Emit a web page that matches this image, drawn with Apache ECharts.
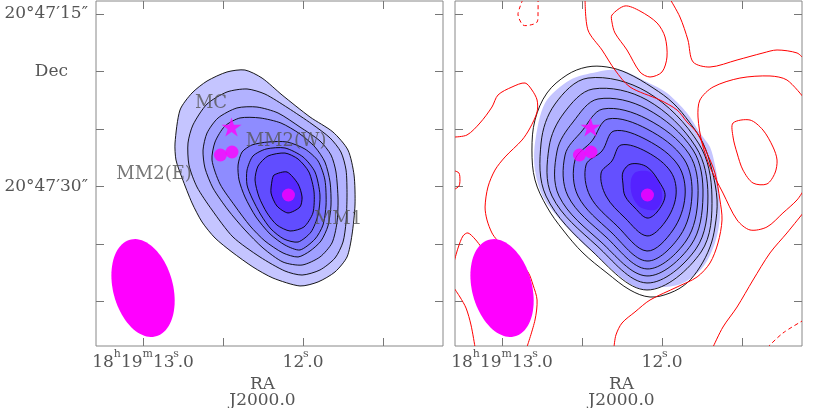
<!DOCTYPE html>
<html>
<head>
<meta charset="utf-8">
<title>MM1 / MM2 continuum maps</title>
<script src="https://cdn.jsdelivr.net/npm/echarts@6/dist/echarts.min.js"></script>
<style>
  html, body { margin: 0; padding: 0; background: #fff; }
  #chart { width: 830px; height: 408px; }
</style>
</head>
<body>
<div id="chart"></div>
<script>
// RA in seconds of 18h19m, Dec in arcsec of 20°47'
const raTicks = [13.0, 12.5, 12.0, 11.5];
const raLabels = [13.0, 12.0];
const decTicks = [15, 20, 25, 30, 35, 40];
const decLabels = [15, 20, 30];

// left panel: observed map, filled contours (outer -> inner)
const leftC1 = [[12.800,26.22],[12.794,27.70],[12.756,29.26],[12.694,31.43],[12.631,33.09],[12.550,34.48],[12.444,35.70],[12.313,37.00],[12.188,37.96],[12.019,38.65],[11.906,38.30],[11.800,37.43],[11.725,36.13],[11.694,34.22],[11.675,31.61],[11.681,29.00],[11.719,26.83],[11.813,25.26],[11.956,23.96],[12.131,22.04],[12.256,20.57],[12.363,19.87],[12.475,20.04],[12.600,20.83],[12.694,21.87],[12.769,23.35]];
const leftC2 = [[12.719,26.22],[12.688,24.65],[12.600,22.83],[12.475,21.78],[12.350,21.52],[12.238,21.96],[12.094,23.17],[11.944,24.57],[11.831,25.78],[11.763,27.00],[11.731,28.57],[11.725,30.74],[11.731,33.09],[11.750,34.83],[11.800,36.22],[11.894,37.26],[12.006,37.70],[12.113,37.35],[12.269,36.13],[12.438,34.39],[12.569,32.04],[12.663,30.04],[12.713,28.13]];
const leftC3 = [[12.625,26.83],[12.600,25.35],[12.531,24.04],[12.413,23.17],[12.288,23.09],[12.156,23.61],[12.019,24.83],[11.894,26.04],[11.825,27.26],[11.794,28.74],[11.781,31.17],[11.788,33.17],[11.819,34.91],[11.894,36.13],[12.006,36.83],[12.125,36.57],[12.250,35.35],[12.363,33.78],[12.469,32.04],[12.563,30.13],[12.613,28.39]];
const leftC4 = [[12.569,27.70],[12.550,26.13],[12.488,24.74],[12.394,24.04],[12.269,24.04],[12.138,24.48],[12.019,25.43],[11.925,26.57],[11.863,27.87],[11.831,29.61],[11.825,31.61],[11.844,33.43],[11.888,34.74],[11.956,35.61],[12.031,36.13],[12.125,35.78],[12.238,34.74],[12.331,33.43],[12.425,31.70],[12.519,29.78]];
const leftC5 = [[12.406,28.13],[12.381,27.00],[12.319,26.39],[12.219,26.13],[12.100,26.13],[11.988,26.74],[11.906,27.78],[11.863,29.43],[11.856,31.61],[11.875,33.35],[11.925,34.57],[12.019,35.52],[12.113,35.09],[12.206,34.13],[12.294,32.65],[12.363,30.91],[12.400,29.43]];
const leftC6 = [[12.350,28.57],[12.313,27.35],[12.231,26.74],[12.113,26.65],[12.000,27.43],[11.925,28.74],[11.894,30.74],[11.906,32.48],[11.950,33.96],[12.031,34.83],[12.119,34.57],[12.200,33.70],[12.263,32.48],[12.319,31.00],[12.350,29.87]];
const leftC7 = [[12.300,29.43],[12.281,28.22],[12.219,27.35],[12.113,27.09],[12.031,27.61],[11.963,28.74],[11.931,30.48],[11.938,32.30],[11.994,33.52],[12.081,33.87],[12.163,33.35],[12.225,32.30],[12.275,30.91]];
const leftC8 = [[12.181,29.00],[12.100,28.74],[12.031,29.78],[12.006,30.91],[12.019,31.78],[12.094,32.30],[12.163,31.70],[12.200,30.57],[12.194,29.52]];

// right panel: filled map (outer fill, core fill) and black model contours
const rightF1 = [[12.794,26.22],[12.731,22.74],[12.575,20.74],[12.406,20.04],[12.263,19.87],[12.094,20.91],[11.969,21.87],[11.844,23.61],[11.763,25.35],[11.700,26.57],[11.669,28.13],[11.650,29.70],[11.638,32.65],[11.669,34.91],[11.744,37.00],[11.869,38.39],[12.013,38.74],[12.181,38.13],[12.325,36.65],[12.469,35.26],[12.619,33.17],[12.744,30.91],[12.794,28.57]];
const rightCore = [[12.163,28.74],[12.075,28.74],[12.013,29.87],[12.000,31.17],[12.044,32.04],[12.138,31.78],[12.188,30.74],[12.194,29.43]];
const rightB1 = [[12.813,26.83],[12.794,24.22],[12.719,21.87],[12.594,20.30],[12.469,19.61],[12.344,19.61],[12.219,20.13],[12.056,21.43],[11.931,22.74],[11.825,24.48],[11.744,26.22],[11.688,28.57],[11.656,31.17],[11.669,33.52],[11.700,35.26],[11.763,37.00],[11.844,38.39],[11.950,39.26],[12.075,39.61],[12.200,39.00],[12.344,37.52],[12.494,35.78],[12.619,33.78],[12.719,31.78],[12.794,29.43]];
const rightB2 = [[12.094,21.78],[11.769,26.30],[11.688,30.83],[11.756,35.70],[12.094,39.00],[12.438,35.61],[12.725,30.83],[12.756,26.22],[12.669,22.83],[12.463,20.57]];
const rightB3 = [[12.094,22.48],[11.788,26.57],[11.713,30.83],[11.788,35.43],[12.094,38.39],[12.406,35.17],[12.688,30.83],[12.706,26.57],[12.613,23.61],[12.431,21.52]];
const rightB4 = [[12.094,23.26],[11.806,26.83],[11.744,30.83],[11.819,35.09],[12.094,37.78],[12.381,34.83],[12.644,30.83],[12.656,26.91],[12.556,24.39],[12.400,22.39]];
const rightB5 = [[12.094,24.13],[11.831,27.17],[11.775,30.83],[11.850,34.74],[12.094,37.17],[12.350,34.39],[12.588,30.83],[12.606,27.26],[12.500,25.17],[12.369,23.26]];
const rightB6 = [[12.094,25.00],[11.863,27.61],[11.813,30.83],[11.888,34.30],[12.094,36.48],[12.319,33.96],[12.525,30.83],[12.544,27.70],[12.438,26.04],[12.338,24.13]];
const rightB7 = [[12.094,25.96],[11.900,28.13],[11.856,30.83],[11.931,33.78],[12.094,35.61],[12.281,33.43],[12.450,30.83],[12.475,28.13],[12.375,26.91],[12.300,25.17]];
const rightB8 = [[12.094,27.00],[11.944,28.74],[11.913,30.83],[11.981,33.09],[12.094,34.30],[12.231,32.74],[12.350,30.83],[12.381,28.83],[12.313,27.78],[12.256,26.39]];
const rightB9 = [[12.094,28.30],[12.013,29.70],[11.981,30.83],[12.031,32.22],[12.094,32.74],[12.169,31.87],[12.231,30.83],[12.244,29.78],[12.244,28.74],[12.194,28.04]];

// right panel: red residual contours
const red0 = [[13.294,28.65],[13.269,28.83],[13.263,29.43],[13.269,29.96],[13.294,30.22]];
const red1 = [[13.300,25.70],[13.219,25.52],[13.138,24.48],[13.063,23.09],[13.025,22.04],[12.938,21.35],[12.856,21.00],[12.813,21.61],[12.781,22.48],[12.781,23.52],[12.825,24.91],[12.875,25.96],[12.981,27.43],[13.044,28.57],[13.088,30.04],[13.106,31.78],[13.094,32.91],[13.063,34.04],[13.031,34.65],[12.919,36.22],[12.838,37.43],[12.806,38.57],[12.781,39.87],[12.794,41.61],[12.844,43.95]];
const red2a = [[13.300,36.57],[13.275,35.35],[13.244,34.30],[13.213,34.04],[13.169,34.57],[13.125,35.35],[13.075,36.22],[13.013,37.70]];
const red2b = [[13.300,38.83],[13.263,39.61],[13.225,40.57],[13.194,42.04],[13.169,43.96]];
const red3 = [[12.869,13.70],[12.888,14.39],[12.900,15.09],[12.869,15.96],[12.825,15.96],[12.781,15.70],[12.775,14.83],[12.775,13.70]];
const red4 = [[12.481,13.70],[12.463,16.39],[12.375,18.13],[12.294,19.87],[12.200,21.35],[12.013,22.48],[11.906,23.35],[11.844,24.39],[11.781,25.35],[11.719,27.09],[11.669,28.83],[11.638,31.17],[11.625,32.91],[11.650,34.91],[11.700,36.65],[11.781,37.87],[11.906,38.74],[12.075,39.87],[12.169,40.91],[12.250,41.87],[12.288,42.91],[12.300,43.96]];
const red5 = [[12.313,15.09],[12.231,14.30],[12.138,14.74],[12.031,15.78],[11.981,17.00],[11.969,18.74],[12.000,20.04],[12.075,20.48],[12.138,20.04],[12.219,18.13],[12.294,16.65],[12.313,15.70]];
const red6 = [[11.950,13.70],[11.888,15.26],[11.838,17.26],[11.806,19.17],[11.700,19.61],[11.531,19.00],[11.369,18.39],[11.281,18.13],[11.156,18.39],[11.113,18.91]];
const red7 = [[11.113,22.30],[11.219,20.74],[11.325,20.39],[11.513,20.57],[11.681,21.35],[11.763,22.48],[11.775,23.96],[11.750,26.22],[11.700,28.30],[11.619,30.57],[11.531,32.91],[11.450,33.78],[11.344,33.52],[11.244,32.30],[11.156,31.17],[11.113,30.30]];
const red8 = [[11.556,24.48],[11.450,24.22],[11.369,25.09],[11.306,26.57],[11.281,27.70],[11.294,28.83],[11.344,29.78],[11.431,29.70],[11.494,28.57],[11.531,27.09],[11.556,25.70]];
const red9 = [[11.113,32.22],[11.219,34.04],[11.325,35.78],[11.431,38.13],[11.531,40.48],[11.619,42.22],[11.681,43.96]];
const red10 = [[11.113,41.61],[11.244,42.74],[11.338,43.96]];

// sources
const mcStar = [12.447, 24.83];
const mm2Dots = [[12.516, 27.26], [12.444, 27.00]];
const mm1Dot = [12.091, 30.74];
const labelNames = ['MC', 'MM2(W)', 'MM2(E)', 'MM1'];
const labelPos = [[12.575, 22.74], [12.106, 26.04], [12.931, 28.91], [11.781, 32.83]];

// synthesized beam: centre, major / minor FWHM (arcsec), PA (deg)
const beamCenter = [13.0, 38.83];
const beamSize = [8.7, 5.2];
const beamPA = 15;

const leftFill = ['#c5c5ff', '#b2b2ff', '#a0a0ff', '#8e8cff', '#7d78ff', '#6e62ff', '#614dff', '#5528ff'];
const rightFill = ['#c5c5ff', '#b5b5ff', '#a5a5ff', '#9898ff', '#8a88ff', '#7c76ff', '#7064ff', '#6450ff', '#5a3cff', '#5522ff'];

const FONT = 'DejaVu Serif';
const TEXT = '#555';
const xRange = { min: 11.125, max: 13.294 };
const yRange = { min: 13.87, max: 43.87 };
const starPath = 'path://M0,-10L2.245,-3.09L9.51,-3.09L3.633,1.18L5.88,8.09L0,3.82L-5.88,8.09L-3.633,1.18L-9.51,-3.09L-2.245,-3.09Z';

const chart = echarts.init(document.getElementById('chart'));

function raFormat(v) {
  const s = Math.round(v * 10) / 10;
  if (s === 13) return '{n|18}{u|h}{n|19}{u|m}{n|13}{d|s}{n|.0}';
  return '{n|' + Math.floor(s) + '}{d|s}{n|.' + Math.round((s - Math.floor(s)) * 10) + '}';
}

const raRich = {
  n: { fontFamily: FONT, fontSize: 17, color: TEXT, lineHeight: 28 },
  u: { fontFamily: FONT, fontSize: 11, color: TEXT, lineHeight: 12, verticalAlign: 'top' },
  d: { fontFamily: FONT, fontSize: 11, color: TEXT, lineHeight: 12, verticalAlign: 'top', width: 3 }
};

function raAxis(g, pos) {
  const bottom = pos === 'bottom';
  return {
    type: 'value', gridIndex: g, position: pos, inverse: true,
    min: xRange.min, max: xRange.max,
    axisLine: { show: false, onZero: false },
    splitLine: { show: false },
    axisTick: { show: true, inside: true, length: 8, customValues: raTicks, lineStyle: { color: '#777' } },
    axisLabel: bottom
      ? { show: true, customValues: raLabels, margin: 3, formatter: raFormat, rich: raRich }
      : { show: false },
    name: bottom ? 'RA\nJ2000.0' : '',
    nameLocation: 'middle',
    nameGap: 31,
    nameTextStyle: { fontFamily: FONT, fontSize: 17, color: TEXT, lineHeight: 16, padding: [0, 14, 0, 0] }
  };
}

function decAxis(g, pos) {
  const withLabels = g === 0 && pos === 'left';
  return {
    type: 'value', gridIndex: g, position: pos, inverse: true,
    min: yRange.min, max: yRange.max,
    axisLine: { show: false, onZero: false },
    splitLine: { show: false },
    axisTick: { show: true, inside: true, length: 8, customValues: decTicks, lineStyle: { color: '#777' } },
    axisLabel: withLabels
      ? {
          show: true, customValues: decLabels, margin: 8,
          fontFamily: FONT, fontSize: 17, color: TEXT,
          formatter: v => (v === 20 ? '{d|Dec}' : '20°47′' + v + '″'),
          rich: { d: { fontFamily: FONT, fontSize: 17, color: TEXT, padding: [0, 20, 0, 0] } }
        }
      : { show: false }
  };
}

function polySeries(g, polys, styleOf, closed, z, smooth) {
  return {
    type: 'custom',
    coordinateSystem: 'cartesian2d',
    xAxisIndex: 2 * g,
    yAxisIndex: 2 * g,
    silent: true,
    clip: true,
    z: z,
    data: polys.map(p => p[0]),
    renderItem: (params, api) => ({
      type: closed ? 'polygon' : 'polyline',
      shape: { points: polys[params.dataIndex].map(p => api.coord(p)), smooth: smooth },
      style: styleOf(params.dataIndex)
    })
  };
}

function beamSeries(g) {
  return {
    type: 'custom',
    coordinateSystem: 'cartesian2d',
    xAxisIndex: 2 * g,
    yAxisIndex: 2 * g,
    silent: true,
    clip: true,
    z: 5,
    data: [beamCenter],
    renderItem: (params, api) => {
      const c = api.coord(beamCenter);
      const ry = Math.abs(api.size([0, beamSize[0]])[1]) / 2;
      const rx = Math.abs(api.size([0, beamSize[1]])[1]) / 2;
      const t = beamPA * Math.PI / 180;
      const pts = [];
      for (let k = 0; k < 90; k++) {
        const a = (k / 90) * 2 * Math.PI;
        const X = rx * Math.cos(a);
        const Y = ry * Math.sin(a);
        pts.push([c[0] + X * Math.cos(t) + Y * Math.sin(t), c[1] - X * Math.sin(t) + Y * Math.cos(t)]);
      }
      return { type: 'polygon', shape: { points: pts }, style: { fill: '#ff00ff' } };
    }
  };
}

function markerSeries(g) {
  return [
    {
      type: 'scatter', xAxisIndex: 2 * g, yAxisIndex: 2 * g, z: 6, silent: true,
      symbol: starPath, symbolSize: 20, symbolKeepAspect: true,
      itemStyle: { color: '#ff00ff' },
      data: [mcStar]
    },
    {
      type: 'scatter', xAxisIndex: 2 * g, yAxisIndex: 2 * g, z: 6, silent: true,
      symbol: 'circle', symbolSize: 13,
      itemStyle: { color: '#ff00ff' },
      data: mm2Dots.concat([mm1Dot])
    }
  ];
}

const blackLine = () => ({ fill: 'none', stroke: '#000', lineWidth: 0.9 });
const redLine = () => ({ fill: 'none', stroke: '#ff0000', lineWidth: 1 });
const redDash = () => ({ fill: 'none', stroke: '#ff0000', lineWidth: 1, lineDash: [4, 3] });

const leftContours = [leftC1, leftC2, leftC3, leftC4, leftC5, leftC6, leftC7, leftC8];
const rightFills = [rightF1, rightB2, rightB3, rightB4, rightB5, rightB6, rightB7, rightB8, rightB9, rightCore];
const rightLines = [rightB1, rightB2, rightB3, rightB4, rightB5, rightB6, rightB7, rightB8, rightB9];

const option = {
  backgroundColor: '#fff',
  animation: false,
  grid: [
    { left: 96, top: 1, width: 347, height: 345, show: true, borderColor: '#888', borderWidth: 1, outerBoundsMode: 'none' },
    { left: 455, top: 1, width: 347, height: 345, show: true, borderColor: '#888', borderWidth: 1, outerBoundsMode: 'none' }
  ],
  xAxis: [raAxis(0, 'bottom'), raAxis(0, 'top'), raAxis(1, 'bottom'), raAxis(1, 'top')],
  yAxis: [decAxis(0, 'left'), decAxis(0, 'right'), decAxis(1, 'left'), decAxis(1, 'right')],
  series: [
    polySeries(0, leftContours, i => ({ fill: leftFill[i], stroke: '#000', lineWidth: 0.9 }), true, 2, 0.25),
    beamSeries(0),
    ...markerSeries(0),
    {
      type: 'scatter', xAxisIndex: 0, yAxisIndex: 0, z: 7, silent: true,
      symbolSize: 1, itemStyle: { color: 'rgba(0,0,0,0)' },
      data: labelPos.map((p, i) => ({ value: p, name: labelNames[i] })),
      label: { show: true, position: 'inside', formatter: '{b}', fontFamily: FONT, fontSize: 18, color: TEXT }
    },

    polySeries(1, rightFills, i => ({ fill: rightFill[i] }), true, 2, 0.3),
    polySeries(1, rightLines, blackLine, true, 3, 0.35),
    polySeries(1, [red5, red8], redLine, true, 4, 0.3),
    polySeries(1, [red0, red1, red2a, red2b, red4, red6, red7, red9], redLine, false, 4, 0.3),
    polySeries(1, [red3, red10], redDash, false, 4, 0.3),
    beamSeries(1),
    ...markerSeries(1)
  ]
};

chart.setOption(option);
</script>
</body>
</html>
